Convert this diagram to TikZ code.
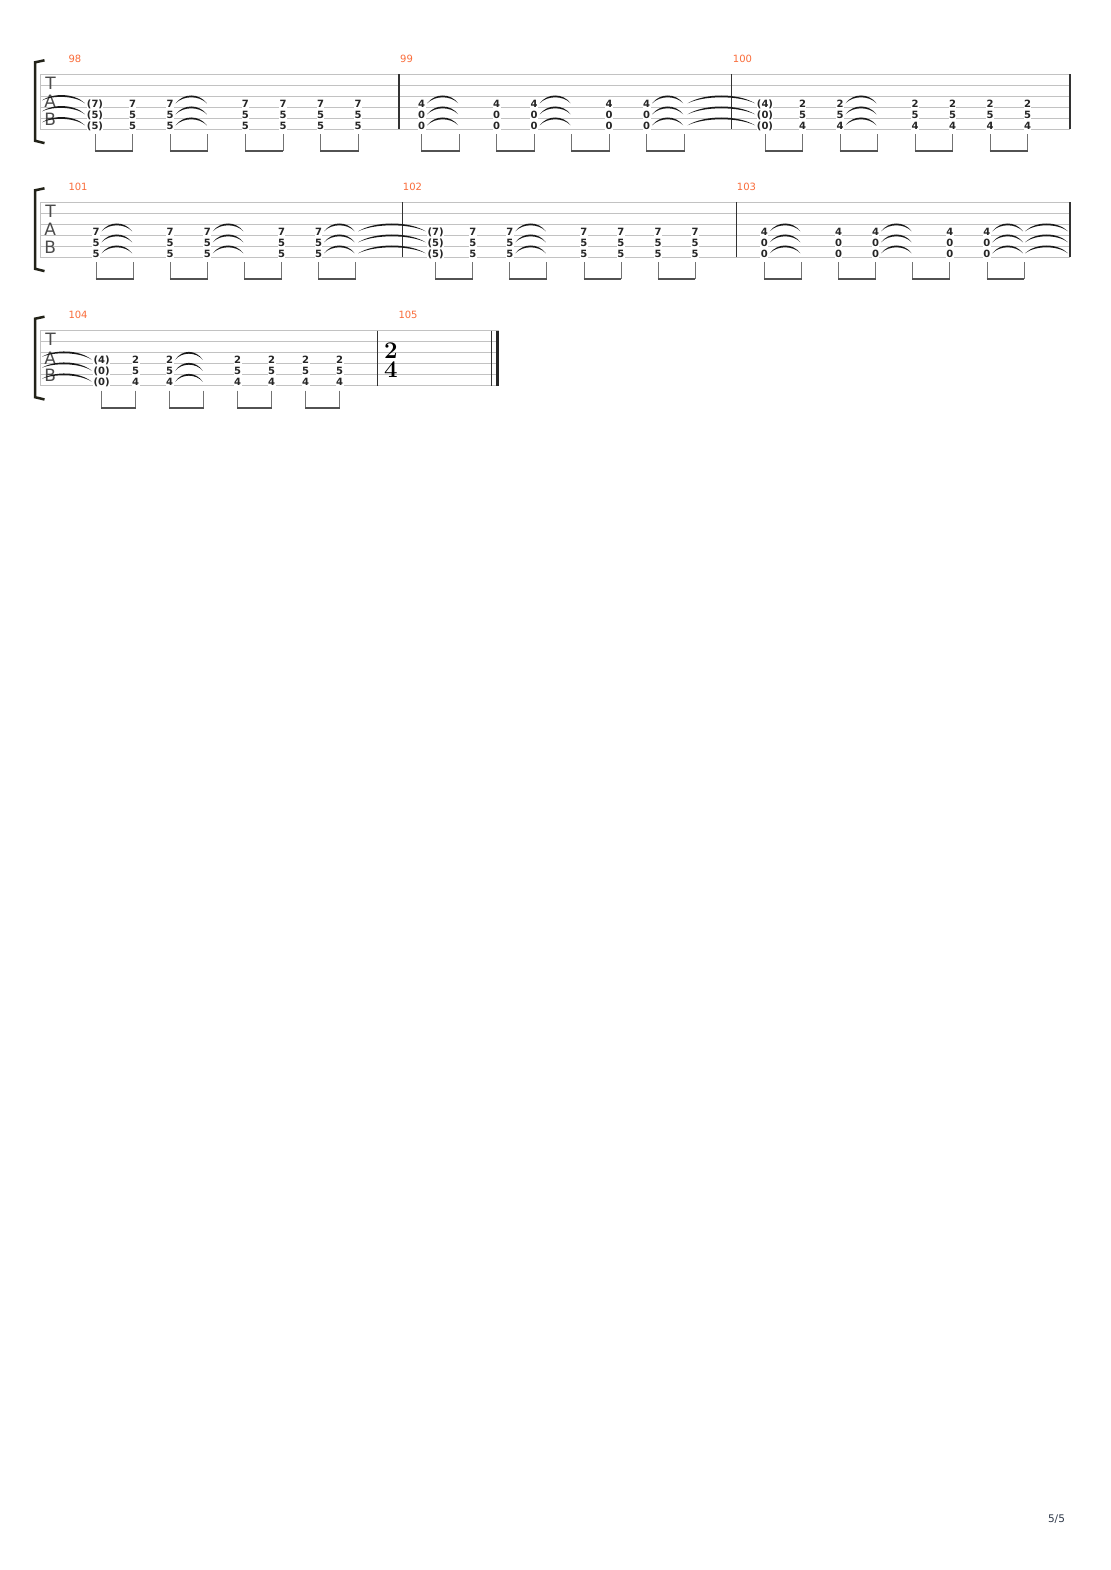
\documentclass[tikz,border=0pt]{standalone}
\usepackage{fontspec}
\newfontfamily\dejavu{DejaVu Sans}
\usetikzlibrary{calc}
\definecolor{barnumber}{RGB}{250,108,58}
\definecolor{bracketcol}{RGB}{34,34,24}
\definecolor{pagecol}{RGB}{45,55,72}
\tikzset{%
  tab line/.style={draw=black!24,line width=0.75pt},
  bar line/.style={draw=black!80,line width=1.1pt},
  bracket/.style={draw=bracketcol,line width=2.5pt},
  fret/.style={font=\dejavu\bfseries\fontsize{10}{10}\selectfont,text=black!85,fill=white,inner sep=0.4pt,anchor=base},
  bar number/.style={font=\dejavu\fontsize{10}{10}\selectfont,text=barnumber,anchor=base west,inner sep=0pt},
  clef letter/.style={font=\dejavu\fontsize{17}{17}\selectfont,text=black!70,inner sep=0pt},
  stem/.style={draw=black!55,line width=0.8pt},
  beam/.style={draw=black!68,line width=2.2pt},
  tie/.style={fill=black!90},
}

% eight beats of one bar: #1 bar, #2 first x, #3 step, #4 top line y
\newcommand\beats[4]{%
  \foreach \p in {1,...,8}
    \coordinate (m#1-\p) at ({#2+(\p-1)*#3},{#4+55});
  \foreach \a/\b in {1/2,3/4,5/6,7/8}{
    \draw[stem] ($(m#1-\a)+(0,5)$) -- ($(m#1-\a)+(0,22)$);
    \draw[stem] ($(m#1-\b)+(0,5)$) -- ($(m#1-\b)+(0,22)$);
    \draw[beam] ($(m#1-\a)+(-0.4,22)$) -- ($(m#1-\b)+(0.4,22)$);
  }
}
% three frets on strings 4 to 6
\newcommand\chord[5]{%
  \node[fret] (f#1-#2-a) at ($(m#1-#2)+(0,-22)$) {#3};
  \node[fret] (f#1-#2-b) at ($(m#1-#2)+(0,-11)$) {#4};
  \node[fret] (f#1-#2-c) at (m#1-#2) {#5};
}
% ties on strings 4 to 6: from, to, left gap, right gap, lift of left end
\newcommand\tie[5]{%
  \foreach \up in {22,11,0}
    \fill[tie] let \p1=($(#1)+(#3,0)$), \p2=($(#2)+(-#4,0)$), \n1={0.25*(\x2-\x1)} in
      (\x1,\y1+\up pt+#5pt) .. controls (\x1+\n1,\y1+\up pt+14.4pt) and (\x2-\n1,\y1+\up pt+14.4pt) .. (\x2,\y1+\up pt+4pt)
      .. controls (\x2-\n1,\y1+\up pt+12pt) and (\x1+\n1,\y1+\up pt+12pt) .. cycle;
}
% bar that starts with held frets: #1 bar, #2-#4 held, #5-#7 played
\newcommand\heldbar[7]{%
  \chord{#1}{1}{(#2)}{(#3)}{(#4)}
  \foreach \p in {2,3,5,6,7,8} {\chord{#1}{\p}{#5}{#6}{#7}}
  \tie{m#1-3}{m#1-4}{5.5}{1}{4}
}
% bar tied in pairs
\newcommand\pairbar[4]{%
  \foreach \p in {1,3,4,6,7} {\chord{#1}{\p}{#2}{#3}{#4}}
  \foreach \a/\b in {1/2,4/5,7/8} {\tie{m#1-\a}{m#1-\b}{5.5}{1}{4}}
}

\begin{document}
\begin{tikzpicture}[x=1pt,y=-1pt]
  \fill[white] (0,0) rectangle (1110,1570);
  \useasboundingbox (0,0) rectangle (1110,1570);

  % staves
  \foreach \y/\r [count=\i] in {74.3/1070,202.3/1070,330.7/499}{
    \foreach \k in {0,...,5}
      \draw[tab line] (40,{\y+11*\k}) -- (\r,{\y+11*\k});
    \draw[tab line] (40.3,\y) -- (40.3,{\y+55});
    \draw[bracket] (44.5,{\y-14}) .. controls (38,{\y-12.6}) .. (35,{\y-12}) -- (35,{\y+66.5}) .. controls (38,{\y+67.2}) .. (44.5,{\y+68.8});
    \node[clef letter] (clefT\i) at (50.5,{\y+9}) {T};
    \node[clef letter] (clefA\i) at (50.3,{\y+27.5}) {A};
    \node[clef letter] (clefB\i) at (50.3,{\y+45}) {B};
    \coordinate (start\i) at (42,{\y+55});
  }
  \coordinate (end2) at (1068,257.3);

  % bar lines
  \foreach \x/\y in {399/74.3,731.7/74.3,1070/74.3,402.3/202.3,736.7/202.3,1070/202.3,377.3/330.7,491.7/330.7}
    \draw[bar line] (\x,\y) -- (\x,{\y+55});
  \fill[black!85] (495.8,330.7) rectangle (499,385.7);

  % bar numbers
  \foreach \n/\x/\y in {98/68.3/62.3,99/400/62.3,100/732.7/62.3,101/68.3/190.3,102/402.7/190.3,103/736.7/190.3,104/68.3/318.7,105/398.3/318.7}
    \node[bar number] (num\n) at (\x,\y) {\n};

  % beats
  \beats{98}{95}{37.6}{74.3}
  \beats{99}{421.7}{37.5}{74.3}
  \beats{100}{765}{37.5}{74.3}
  \beats{101}{96}{37.1}{202.3}
  \beats{102}{435.7}{37.05}{202.3}
  \beats{103}{764.3}{37.1}{202.3}
  \beats{104}{101.7}{34}{330.7}

  % frets and ties
  \heldbar{98}{7}{5}{5}{7}{5}{5}
  \pairbar{99}{4}{0}{0}
  \heldbar{100}{4}{0}{0}{2}{5}{4}
  \pairbar{101}{7}{5}{5}
  \heldbar{102}{7}{5}{5}{7}{5}{5}
  \pairbar{103}{4}{0}{0}
  \heldbar{104}{4}{0}{0}{2}{5}{4}
  \tie{start1}{m98-1}{0}{10}{7}
  \tie{m99-8}{m100-1}{3.5}{10}{4}
  \tie{m101-8}{m102-1}{2.5}{10}{4}
  \tie{m103-8}{end2}{1}{0}{4}
  \tie{start3}{m104-1}{0}{10}{7}

  % time signature
  \node[font=\bfseries\fontsize{24}{19}\selectfont,align=center,inner sep=0pt] (sig) at (391,360.5) {2\\4};

  \node[font=\dejavu\fontsize{10.5}{10.5}\selectfont,text=pagecol] (page) at (1056.5,1519) {5/5};
\end{tikzpicture}
\end{document}
